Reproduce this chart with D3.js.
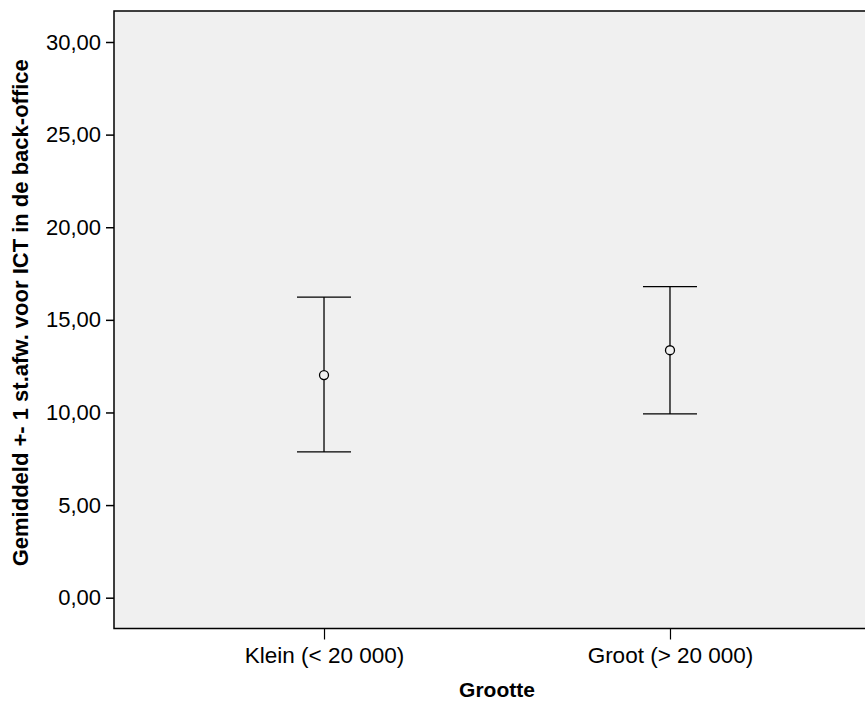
<!DOCTYPE html>
<html>
<head>
<meta charset="utf-8">
<script src="https://cdn.jsdelivr.net/npm/d3@7"></script>
<style>
  body { margin: 0; background: #ffffff; }
  svg { display: block; font-family: "Liberation Sans", Arial, sans-serif; }
</style>
</head>
<body>
<svg id="chart" width="865" height="702"></svg>
<script>
// Data
const categories = ["Klein (< 20 000)", "Groot (> 20 000)"];
const means = [12.02, 13.36];
const upper = [16.23, 16.79];
const lower = [7.87, 9.92];
const yTicks = [0, 5, 10, 15, 20, 25, 30];
const xTitle = "Grootte";
const yTitle = "Gemiddeld +- 1 st.afw. voor ICT in de back-office";

const svg = d3.select("#chart");
const plot = { left: 114, top: 11, right: 880, bottom: 628.5 };

const y = d3.scaleLinear().domain([0, 30]).range([597.7, 42]);
const x = d3.scalePoint().domain(categories).range([plot.left, plot.right]).padding(0.607);

// Plot background
svg.append("rect")
  .attr("x", plot.left).attr("y", plot.top)
  .attr("width", plot.right - plot.left).attr("height", plot.bottom - plot.top)
  .attr("fill", "#f0f0f0");

// Frame: top, left, bottom
svg.append("path")
  .attr("d", `M${plot.right},${plot.top}H${plot.left}V${plot.bottom}H${plot.right}`)
  .attr("fill", "none").attr("stroke", "#000").attr("stroke-width", 1.5);

// Y axis
const yAxis = d3.axisLeft(y).tickValues(yTicks).tickSize(8).tickPadding(5)
  .tickFormat(d => d3.format(".2f")(d).replace(".", ","));
const gy = svg.append("g").attr("transform", `translate(${plot.left},0)`).call(yAxis);
gy.select(".domain").remove();
gy.selectAll(".tick line").attr("stroke", "#000").attr("stroke-width", 1.5);
gy.selectAll(".tick text").attr("font-size", 22).attr("fill", "#000");

// X axis
const xAxis = d3.axisBottom(x).tickSize(11).tickPadding(8);
const gx = svg.append("g").attr("transform", `translate(0,${plot.bottom})`).call(xAxis);
gx.select(".domain").remove();
gx.selectAll(".tick line").attr("stroke", "#000").attr("stroke-width", 1.2);
gx.selectAll(".tick text").attr("font-size", 22.5).attr("fill", "#000");

// Error bars
const capHalf = 27;
const g = svg.append("g");
categories.forEach((c, i) => {
  const cx = x(c);
  g.append("line").attr("x1", cx).attr("x2", cx)
    .attr("y1", y(upper[i])).attr("y2", y(lower[i]))
    .attr("stroke", "#000").attr("stroke-width", 1.3);
  g.append("line").attr("x1", cx - capHalf).attr("x2", cx + capHalf)
    .attr("y1", y(upper[i])).attr("y2", y(upper[i]))
    .attr("stroke", "#000").attr("stroke-width", 1.3);
  g.append("line").attr("x1", cx - capHalf).attr("x2", cx + capHalf)
    .attr("y1", y(lower[i])).attr("y2", y(lower[i]))
    .attr("stroke", "#000").attr("stroke-width", 1.3);
  g.append("circle").attr("cx", cx).attr("cy", y(means[i])).attr("r", 4.5)
    .attr("fill", "#f0f0f0").attr("stroke", "#000").attr("stroke-width", 1.3);
});

// Axis titles
svg.append("text")
  .attr("x", 497).attr("y", 697)
  .attr("text-anchor", "middle").attr("font-weight", "bold").attr("font-size", 21)
  .text(xTitle);

svg.append("text")
  .attr("transform", `translate(28,${(plot.top + plot.bottom) / 2 - 7}) rotate(-90)`)
  .attr("text-anchor", "middle").attr("font-weight", "bold").attr("font-size", 22)
  .text(yTitle);
</script>
</body>
</html>
